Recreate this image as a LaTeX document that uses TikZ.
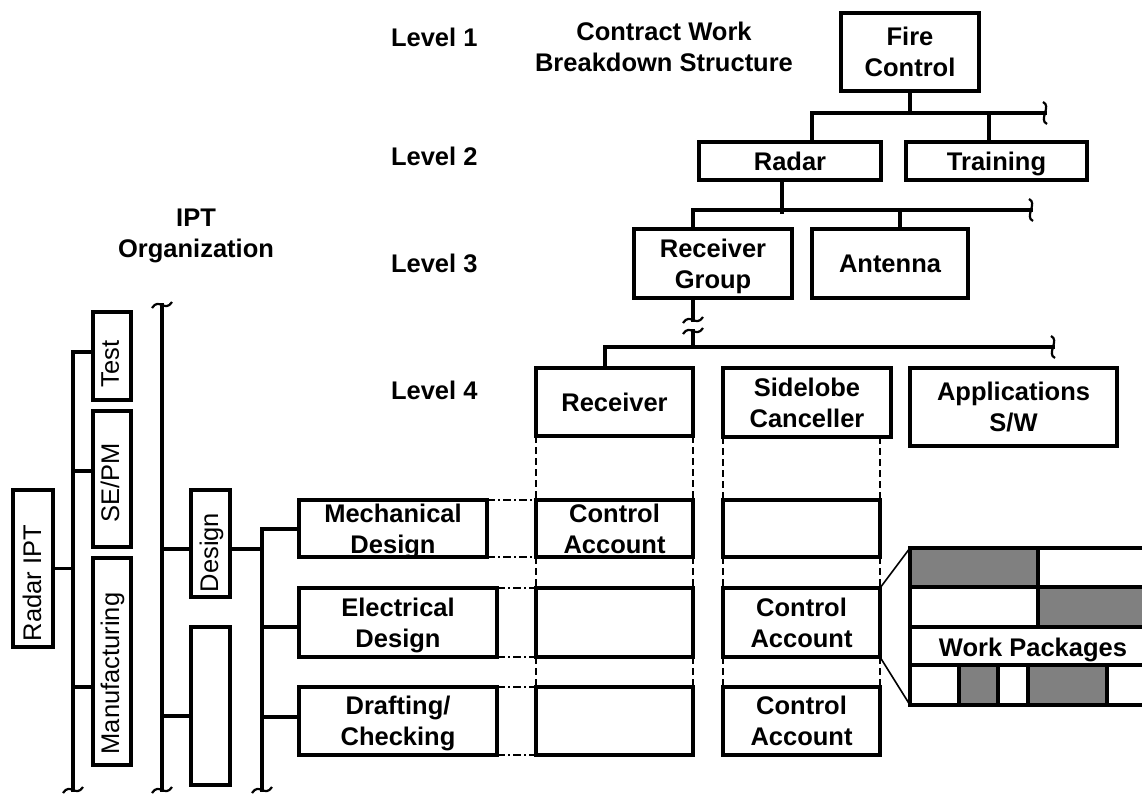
\documentclass[tikz,border=0pt]{standalone}
\usepackage{fontspec}
\setmainfont{Liberation Sans}
\definecolor{wpgray}{RGB}{128,128,128}
\begin{document}
\begin{tikzpicture}[x=1pt,y=-1pt,
  every node/.style={font=\fontsize{25.5}{31}\selectfont\bfseries, inner sep=0pt, outer sep=0pt, align=center, text depth=0pt},
  box/.style 2 args={draw, line width=3.2pt, minimum width=#1pt, minimum height=#2pt},
  rtxt/.style={rotate=90, font=\fontsize{25.5}{31}\selectfont\mdseries},
  conn/.style={line width=3.2pt, line cap=rect, line join=miter},
  dsh/.style={line width=1.4pt, dash pattern=on 7pt off 4pt},
  dshdot/.style={line width=1.4pt, dash pattern=on 8pt off 3pt on 2pt off 3pt},
  thin/.style={line width=1.6pt},
  wpcell/.style={draw=black, line width=3.2pt},
  vbrk/.pic={\draw[line width=2.2pt] (-2,-11) .. controls (7,-7) and (-7,7) .. (2,11);},
  hbrk/.pic={\draw[line width=2.2pt] (-10,3) .. controls (-3,-8) and (3,8) .. (10,-3);}
]
\clip (0,0) rectangle (1142,793);
\fill[white] (0,0) rectangle (1142,793);

% ---- titles and level labels
\node[anchor=west] (lv1) at (391,37) {Level 1};
\node[anchor=west] (lv2) at (391,156) {Level 2};
\node[anchor=west] (lv3) at (391,263) {Level 3};
\node[anchor=west] (lv4) at (391,390) {Level 4};
\node (cwbs) at (664,47) {Contract Work\\Breakdown Structure};
\node (iptorg) at (196,233) {IPT\\Organization};

% ---- contract WBS
\node[box={138}{78}] (fire) at (910,52) {Fire\\Control};
\node[box={182}{38}] (radar) at (790,161) {Radar};
\node[box={181}{38}] (training) at (996.5,161) {Training};
\node[box={158}{69}] (rg) at (713,263.5) {Receiver\\Group};
\node[box={156}{69}] (antenna) at (890,263.5) {Antenna};
\node[box={157}{68}] (receiver) at (614.5,402) {Receiver};
\node[box={168}{69}] (sidelobe) at (807,402.5) {Sidelobe\\Canceller};
\node[box={207}{78}] (apps) at (1013.5,407) {Applications\\S/W};

% level 2 connectors
\coordinate (b2) at (910,113);
\coordinate (b2l) at (812,113);
\coordinate (b2r) at (1045,113);
\coordinate (b2t) at (989,113);
\draw[conn] (fire.south) -- (b2);
\draw[conn] (b2l |- radar.north) -- (b2l) -- (b2r);
\draw[conn] (b2t) -- (b2t |- training.north);
\pic at (b2r) {vbrk};

% level 3 connectors
\coordinate (b3a) at (782,212);
\coordinate (b3l) at (693,210);
\coordinate (b3r) at (1031,210);
\coordinate (b3t) at (900,210);
\draw[conn] (b3a |- radar.south) -- (b3a);
\draw[conn] (b3l |- rg.north) -- (b3l) -- (b3r);
\draw[conn] (b3t) -- (b3t |- antenna.north);
\pic at (b3r) {vbrk};

% level 4 connectors
\coordinate (gap1) at (693,320);
\coordinate (gap2) at (693,331);
\coordinate (b4v) at (693,347);
\coordinate (b4l) at (605,347);
\coordinate (b4r) at (1053,347);
\draw[conn] (gap1 |- rg.south) -- (gap1);
\pic at (gap1) {hbrk};
\pic at (gap2) {hbrk};
\draw[conn] (gap2) -- (b4v);
\draw[conn] (b4l |- receiver.north) -- (b4l) -- (b4r);
\pic at (b4r) {vbrk};

% ---- control account matrix
\node[box={157}{57}] (ca11) at (614.5,528.5) {Control\\Account};
\node[box={157}{57}] (ca12) at (801.5,528.5) {};
\node[box={157}{69}] (ca21) at (614.5,622.5) {};
\node[box={157}{69}] (ca22) at (801.5,622.5) {Control\\Account};
\node[box={157}{68}] (ca31) at (614.5,721) {};
\node[box={157}{68}] (ca32) at (801.5,721) {Control\\Account};

\draw[dsh] (receiver.south west) -- (ca11.north west);
\draw[dsh] (receiver.south east) -- (ca11.north east);
\draw[dsh] (ca11.south west) -- (ca21.north west);
\draw[dsh] (ca11.south east) -- (ca21.north east);
\draw[dsh] (ca21.south west) -- (ca31.north west);
\draw[dsh] (ca21.south east) -- (ca31.north east);
\draw[dsh] (sidelobe.south west) -- (ca12.north west);
\draw[dsh] (ca12.north east |- sidelobe.south) -- (ca12.north east);
\draw[dsh] (ca12.south west) -- (ca22.north west);
\draw[dsh] (ca12.south east) -- (ca22.north east);
\draw[dsh] (ca22.south west) -- (ca32.north west);
\draw[dsh] (ca22.south east) -- (ca32.north east);

% ---- design functions
\node[box={188}{57}] (mech) at (393,528.5) {Mechanical\\Design};
\node[box={198}{69}] (elec) at (398,622.5) {Electrical\\Design};
\node[box={198}{68}] (draft) at (398,721) {Drafting/\\Checking};

\draw[dshdot] (mech.north east) -- (ca11.north west);
\draw[dshdot] (mech.south east) -- (ca11.south west);
\draw[dshdot] (elec.north east) -- (ca21.north west);
\draw[dshdot] (elec.south east) -- (ca21.south west);
\draw[dshdot] (draft.north east) -- (ca31.north west);
\draw[dshdot] (draft.south east) -- (ca31.south west);

% ---- IPT organization
\node[box={40}{157}] (ript) at (33,568.5) {};
\node[rtxt] (riptT) at (32,583) {Radar IPT};
\node[box={38}{88}] (test) at (112,356) {};
\node[rtxt] (testT) at (110,364) {Test};
\node[box={38}{136}] (sepm) at (112,479) {};
\node[rtxt] (sepmT) at (110,482.5) {SE/PM};
\node[box={38}{207}] (manu) at (112,661.5) {};
\node[rtxt] (manuT) at (110,673.5) {Manufacturing};
\node[box={39}{107}] (design) at (210.5,543.5) {};
\node[rtxt] (designT) at (209,552.5) {Design};
\node[box={39}{158}] (blank) at (210.5,706) {};

% spine A
\coordinate (sat) at (73,352);
\coordinate (sa2) at (73,471);
\coordinate (sa3) at (73,687);
\coordinate (sab) at (73,790);
\draw[conn] (test.west |- sat) -- (sat) -- (sab);
\draw[conn] (sa2) -- (sa2 -| sepm.west);
\draw[conn] (sa3) -- (sa3 -| manu.west);
\draw[conn] (ript.east) -- (ript.east -| sat);
\pic at (sab) {hbrk};

% spine B
\coordinate (sbt) at (162,305);
\coordinate (sb1) at (162,549);
\coordinate (sb2) at (162,716);
\coordinate (sbb) at (162,790);
\draw[conn] (sbt) -- (sbb);
\draw[conn] (sb1) -- (sb1 -| design.west);
\draw[conn] (sb2) -- (sb2 -| blank.west);
\pic at (sbt) {hbrk};
\pic at (sbb) {hbrk};

% spine C
\coordinate (sct) at (262,529);
\coordinate (sc0) at (262,549);
\coordinate (sc2) at (262,627);
\coordinate (sc3) at (262,717);
\coordinate (scb) at (262,790);
\draw[conn] (mech.west |- sct) -- (sct) -- (scb);
\draw[conn] (sc0 -| design.east) -- (sc0);
\draw[conn] (sc2) -- (sc2 -| elec.west);
\draw[conn] (sc3) -- (sc3 -| draft.west);
\pic at (scb) {hbrk};

% ---- work packages
\coordinate (wptl) at (910,548);
\coordinate (wpbl) at (910,705);
\filldraw[wpcell, fill=wpgray] (910,548) rectangle (1038,587);
\filldraw[wpcell, fill=white] (1038,548) rectangle (1160,587);
\filldraw[wpcell, fill=white] (910,587) rectangle (1038,627);
\filldraw[wpcell, fill=wpgray] (1038,587) rectangle (1160,627);
\filldraw[wpcell, fill=white] (910,627) rectangle (1160,665);
\filldraw[wpcell, fill=white] (910,665) rectangle (959,705);
\filldraw[wpcell, fill=wpgray] (959,665) rectangle (998,705);
\filldraw[wpcell, fill=white] (998,665) rectangle (1028,705);
\filldraw[wpcell, fill=wpgray] (1028,665) rectangle (1107,705);
\filldraw[wpcell, fill=white] (1107,665) rectangle (1160,705);
\node (wptext) at (1033,647) {Work Packages};
\draw[thin] (ca22.north east) -- (wptl);
\draw[thin] (ca22.south east) -- (wpbl);
\end{tikzpicture}
\end{document}
